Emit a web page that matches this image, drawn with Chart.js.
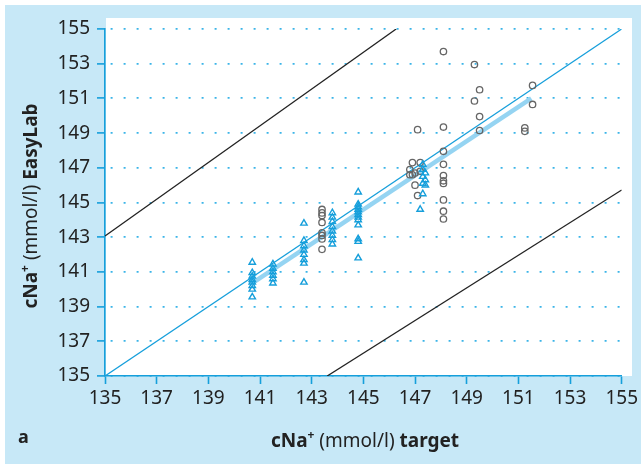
<!DOCTYPE html>
<html>
<head>
<meta charset="utf-8">
<script src="https://cdn.jsdelivr.net/npm/chart.js@4.4.0/dist/chart.umd.min.js"></script>
<style>
html,body{margin:0;padding:0;background:#fff;}
canvas{display:block;}
</style>
</head>
<body>
<canvas id="c" width="641" height="464"></canvas>
<script>
// ---- data ----
const tickLabels = [135,137,139,141,143,145,147,149,151,153,155];

// blue triangles
const triX = [
 140.7,140.7,140.7,140.7,140.7,140.7,140.7,140.7,
 141.5,141.5,141.5,141.5,141.5,141.5,
 142.7,142.7,142.7,142.7,142.7,142.7,142.7,142.7,
 143.8,143.8,143.8,143.8,143.8,143.8,143.8,143.8,
 144.8,144.8,144.8,144.8,144.8,144.8,144.8,144.8,144.8,144.8,144.8,144.8,
 147.3,147.3,147.4,147.3,147.4,147.3,147.4,147.3,147.2
];
const triY = [
 141.55,140.95,140.75,140.55,140.4,140.2,140.0,139.55,
 141.45,141.2,141.0,140.8,140.6,140.35,
 143.8,142.8,142.5,142.25,142.0,141.7,141.5,140.4,
 144.4,144.15,143.9,143.6,143.35,143.1,142.85,142.6,
 145.6,144.9,144.75,144.6,144.45,144.3,144.15,144.0,143.7,142.9,142.75,141.8,
 147.2,146.9,146.7,146.5,146.3,146.1,146.0,145.5,144.6
];

// grey circles
const cirX = [
 143.4,143.4,143.4,143.4,143.4,143.4,143.4,143.4,
 147.1,146.9,147.2,146.8,147.0,146.9,147.2,146.8,147.0,147.1,
 148.1,148.1,148.1,148.1,148.1,148.1,148.1,148.1,148.1,148.1,
 149.3,149.3,149.5,149.5,149.5,
 151.25,151.25,151.55,151.55
];
const cirY = [
 144.6,144.4,144.25,143.85,143.25,143.1,142.9,142.3,
 149.2,147.3,147.3,146.9,146.7,146.6,146.8,146.6,146.0,145.4,
 153.7,149.35,147.95,147.2,146.55,146.25,146.1,145.15,144.5,144.05,
 152.95,150.85,151.5,149.95,149.15,
 149.3,149.1,151.75,150.65
];

// reference lines
const identityX = [135,155],   identityY = [135,155];
const upperX = [135,146.27],   upperY = [143.07,155];
const lowerX = [143.6,155],    lowerY = [135,145.72];
const regrX = [140.7,151.5],   regrY = [140.35,151.0];

const pts = (xs,ys)=>xs.map((x,i)=>({x:x,y:ys[i]}));

const BLUE = '#169fdb';
const FONT = '"Noto Sans", "Open Sans", sans-serif';

const bgPlugin = {
  id:'bg',
  beforeDraw(chart){
    const c = chart.ctx;
    c.save();
    c.fillStyle = '#ffffff'; c.fillRect(0,0,641,464);
    c.fillStyle = '#c7e8f7'; c.fillRect(5,5,636,459);
    c.fillStyle = '#ffffff'; c.fillRect(106,18,526,358);
    c.restore();
  }
};

function drawRich(c, segs, x, y){
  let w = 0;
  segs.forEach(s=>{ c.font = s.f; s.w = c.measureText(s.t).width; w += s.w; });
  let cx = x - w/2;
  segs.forEach(s=>{ c.font = s.f; c.fillText(s.t, cx, y + (s.dy||0)); cx += s.w; });
}

const titlePlugin = {
  id:'titles',
  afterDraw(chart){
    const c = chart.ctx;
    c.save();
    c.fillStyle = '#222';
    c.textBaseline = 'alphabetic';
    c.textAlign = 'left';
    const B = 'bold 19px ' + FONT, R = '19px ' + FONT, S = 'bold 12px ' + FONT;
    drawRich(c, [{t:'cNa',f:B},{t:'+',f:S,dy:-8},{t:' (mmol/l) ',f:R},{t:'target',f:B}], 365, 447);
    c.save();
    c.translate(37, 206);
    c.rotate(-Math.PI/2);
    drawRich(c, [{t:'cNa',f:B},{t:'+',f:S,dy:-8},{t:' (mmol/l) ',f:R},{t:'EasyLab',f:B}], 0, 0);
    c.restore();
    c.font = 'bold 18px ' + FONT;
    c.fillText('a', 18, 443);
    c.restore();
  }
};

new Chart(document.getElementById('c'), {
  type:'scatter',
  data:{
    datasets:[
      {label:'EasyLab', data:pts(triX,triY), pointStyle:'triangle', pointRadius:3.7,
       borderColor:BLUE, backgroundColor:'rgba(255,255,255,0)', pointBorderWidth:1.4},
      {label:'other', data:pts(cirX,cirY), pointStyle:'circle', pointRadius:3.2,
       borderColor:'#666', backgroundColor:'rgba(255,255,255,0)', pointBorderWidth:1.3},
      {label:'regression', data:pts(regrX,regrY), showLine:true, pointRadius:0,
       borderColor:'#95d4f2', borderWidth:4.5},
      {label:'identity', data:pts(identityX,identityY), showLine:true, pointRadius:0,
       borderColor:BLUE, borderWidth:1.3},
      {label:'upper', data:pts(upperX,upperY), showLine:true, pointRadius:0,
       borderColor:'#222', borderWidth:1.3},
      {label:'lower', data:pts(lowerX,lowerY), showLine:true, pointRadius:0,
       borderColor:'#222', borderWidth:1.3}
    ]
  },
  options:{
    responsive:false,
    animation:false,
    layout:{padding:{top:29,right:18,left:0,bottom:0}},
    plugins:{legend:{display:false}, tooltip:{enabled:false}},
    scales:{
      x:{
        type:'linear', min:135, max:155,
        afterBuildTicks(s){ s.ticks = tickLabels.map(v=>({value:v})); },
        afterFit(s){ s.height = 88; },
        border:{display:true, color:BLUE, width:1.6},
        grid:{drawOnChartArea:false, color:BLUE, tickLength:8, tickWidth:1.6},
        ticks:{font:{family:FONT,size:19}, color:'#222', padding:3, maxRotation:0, autoSkip:false}
      },
      y:{
        type:'linear', min:135, max:155,
        afterBuildTicks(s){ s.ticks = tickLabels.map(v=>({value:v})); },
        afterFit(s){ s.width = 105; },
        border:{display:true, color:BLUE, width:1.6, dash:[2,11], dashOffset:-5},
        grid:{drawOnChartArea:true, color:'#3ab4e8', lineWidth:1.8,
              tickLength:8, tickColor:BLUE, tickWidth:1.6, tickBorderDash:[]},
        ticks:{font:{family:FONT,size:19}, color:'#222', padding:7, autoSkip:false}
      }
    }
  },
  plugins:[bgPlugin,titlePlugin]
});
</script>
</body>
</html>
